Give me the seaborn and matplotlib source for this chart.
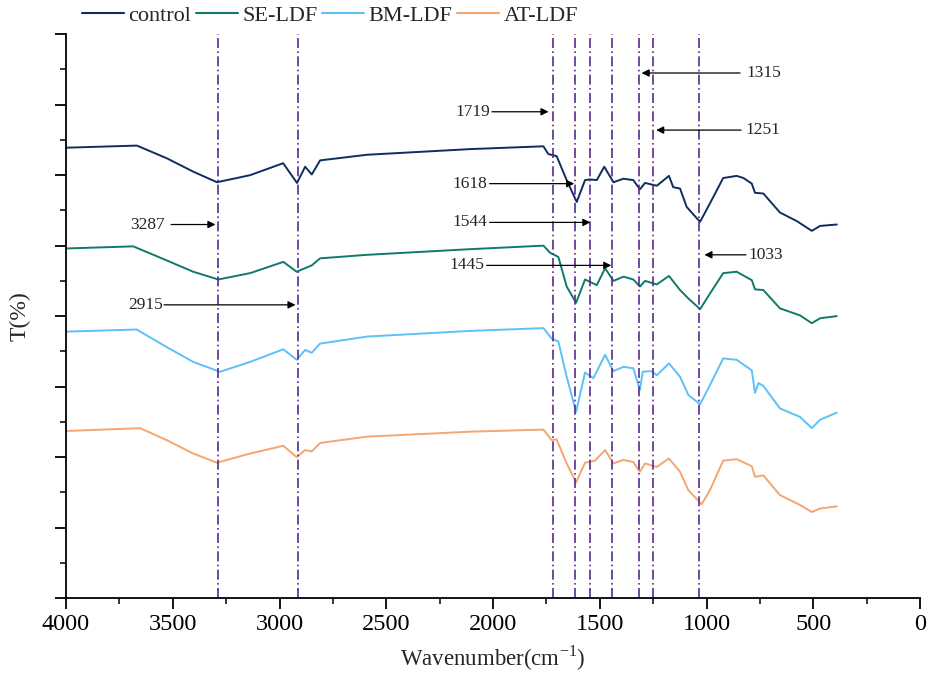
import numpy as np
import pandas as pd
import seaborn as sns
import matplotlib.pyplot as plt
from matplotlib.ticker import MultipleLocator

# wavenumber (cm-1) and transmittance (arbitrary offsets)
wn_control = [4000, 3668, 3528, 3404, 3293, 3138, 2983, 2918, 2880, 2849, 2810, 2590, 2108,
              1764, 1741, 1702, 1655, 1608, 1569, 1546, 1514, 1479, 1436, 1389, 1343, 1312,
              1288, 1233, 1176, 1156, 1124, 1093, 1046, 1030, 984, 922, 859, 827, 788, 773,
              734, 656, 578, 507, 468, 390]
t_control = [63.9, 64.2, 62.4, 60.5, 59.0, 60.0, 61.7, 58.9, 61.2, 60.1, 62.1, 62.9, 63.7,
             64.1, 63.0, 62.7, 59.3, 56.2, 59.3, 59.4, 59.3, 61.2, 59.0, 59.5, 59.3, 58.0,
             58.9, 58.5, 59.9, 58.3, 58.1, 55.5, 53.9, 53.4, 56.0, 59.6, 59.9, 59.6, 58.8,
             57.5, 57.4, 54.7, 53.5, 52.1, 52.8, 53.0]

wn_se = [4000, 3685, 3528, 3404, 3287, 3138, 2982, 2920, 2849, 2810, 2590, 2108,
         1764, 1733, 1694, 1655, 1611, 1569, 1514, 1475, 1436, 1389, 1343, 1312,
         1288, 1233, 1176, 1124, 1085, 1030, 984, 922, 859, 788, 773, 734, 656, 562,
         507, 468, 390]
t_se = [49.6, 49.9, 47.9, 46.3, 45.2, 46.1, 47.7, 46.3, 47.2, 48.2, 48.7, 49.5,
        50.0, 49.0, 48.4, 44.2, 41.9, 45.2, 44.4, 46.8, 45.0, 45.6, 45.2, 44.2,
        45.0, 44.5, 45.7, 43.7, 42.5, 41.0, 43.2, 46.1, 46.3, 45.1, 43.8, 43.7, 41.1,
        40.1, 39.0, 39.7, 40.0]

wn_bm = [4000, 3669, 3528, 3404, 3279, 3138, 2982, 2920, 2880, 2849, 2810, 2590, 2108,
         1764, 1725, 1694, 1655, 1611, 1569, 1530, 1475, 1436, 1389, 1343, 1312, 1299,
         1257, 1233, 1176, 1124, 1085, 1030, 984, 922, 859, 788, 773, 757, 734, 656,
         562, 507, 468, 390]
t_bm = [37.8, 38.1, 35.6, 33.5, 32.1, 33.5, 35.3, 33.8, 35.2, 34.8, 36.1, 37.1, 37.9,
        38.3, 36.8, 36.4, 31.4, 26.4, 32.0, 31.2, 34.5, 32.2, 32.8, 32.6, 29.5, 32.1,
        32.2, 31.6, 33.3, 31.4, 28.8, 27.5, 30.2, 34.0, 33.8, 32.3, 29.1, 30.5, 30.1,
        26.9, 25.7, 24.1, 25.3, 26.3]

wn_at = [4000, 3653, 3528, 3404, 3293, 3138, 2982, 2920, 2880, 2849, 2810, 2590, 2108,
         1764, 1725, 1702, 1655, 1611, 1569, 1522, 1475, 1436, 1389, 1343, 1312, 1288,
         1233, 1176, 1124, 1085, 1023, 984, 922, 859, 788, 773, 734, 656, 562, 507,
         468, 390]
t_at = [23.7, 24.1, 22.4, 20.5, 19.2, 20.5, 21.6, 20.0, 21.0, 20.8, 22.0, 22.9, 23.6,
        23.9, 22.4, 22.5, 19.1, 16.4, 19.2, 19.5, 21.0, 19.1, 19.6, 19.3, 17.9, 19.1,
        18.6, 19.8, 17.9, 15.3, 13.3, 15.3, 19.5, 19.7, 18.7, 17.2, 17.4, 14.6, 13.2,
        12.2, 12.7, 13.0]

samples = ['control', 'SE-LDF', 'BM-LDF', 'AT-LDF']
colors = ['#0f2d5e', '#107a6a', '#5cc1f7', '#f5a56f']

peaks = [3287, 2915, 1719, 1618, 1544, 1445, 1315, 1251, 1033]

frames = []
for name, wn, t in zip(samples, [wn_control, wn_se, wn_bm, wn_at],
                       [t_control, t_se, t_bm, t_at]):
    frames.append(pd.DataFrame({'wavenumber': wn, 'T': t, 'sample': name}))
df = pd.concat(frames, ignore_index=True)

sns.set_style('ticks')
plt.rcParams['font.family'] = ['Liberation Serif', 'DejaVu Serif']

fig = plt.figure(figsize=(9.35, 6.85), dpi=100)
ax = fig.add_axes([0.0706, 0.127, 0.9134, 0.823])

sns.lineplot(data=df, x='wavenumber', y='T', hue='sample', hue_order=samples,
             palette=colors, estimator=None, sort=False, lw=1.4, ax=ax, legend=False)

for p in peaks:
    ax.axvline(p, color='#5a2a8c', lw=1.2, ls=(0, (6, 2, 1, 2)))

# peak labels: (text, text x, text y, align, arrow tail x, arrow head x)
notes = [
    ('3287', 3536, 53.0, 'right', 3508, 3300),
    ('2915', 3545, 41.6, 'right', 3541, 2925),
    ('1719', 2014, 69.0, 'right', 2005, 1740),
    ('1618', 2025, 58.8, 'right', 2016, 1620),
    ('1544', 2025, 53.3, 'right', 2016, 1544),
    ('1445', 2040, 47.2, 'right', 2030, 1446),
    ('1315', 812, 74.5, 'left', 843, 1304),
    ('1251', 818, 66.4, 'left', 838, 1236),
    ('1033', 804, 48.7, 'left', 815, 1010),
]
for txt, tx, ty, ha, x0, x1 in notes:
    ax.text(tx, ty, txt, ha=ha, va='center', fontsize=12.5)
    ax.annotate('', xy=(x1, ty), xytext=(x0, ty),
                arrowprops=dict(arrowstyle='-|>', color='black', lw=0.9,
                                mutation_scale=11, shrinkA=0, shrinkB=0))

ax.set_xlim(4000, 0)
ax.set_ylim(0, 80)
ax.xaxis.set_major_locator(MultipleLocator(500))
ax.xaxis.set_minor_locator(MultipleLocator(250))
ax.yaxis.set_major_locator(MultipleLocator(10))
ax.yaxis.set_minor_locator(MultipleLocator(5))
ax.set_yticklabels([])
ax.tick_params(which='major', length=8, width=1.3, labelsize=17.5, colors='black')
ax.tick_params(which='minor', length=4, width=1.3)
sns.despine(ax=ax)
for s in ['left', 'bottom']:
    ax.spines[s].set_linewidth(1.3)
    ax.spines[s].set_color('black')

ax.set_xlabel('Wavenumber(cm$^{\\mathregular{-1}}$)', fontsize=16.5, labelpad=6)
ax.set_ylabel('T(%)', fontsize=17, labelpad=14)

handles = [plt.Line2D([], [], color=c, lw=1.5) for c in colors]
fig.legend(handles, samples, loc='upper left', bbox_to_anchor=(0.078, 1.005),
           ncol=4, frameon=False, fontsize=16, handlelength=1.9,
           handletextpad=0.2, columnspacing=0.2, borderaxespad=0)

fig.savefig('out.png', dpi=100)
